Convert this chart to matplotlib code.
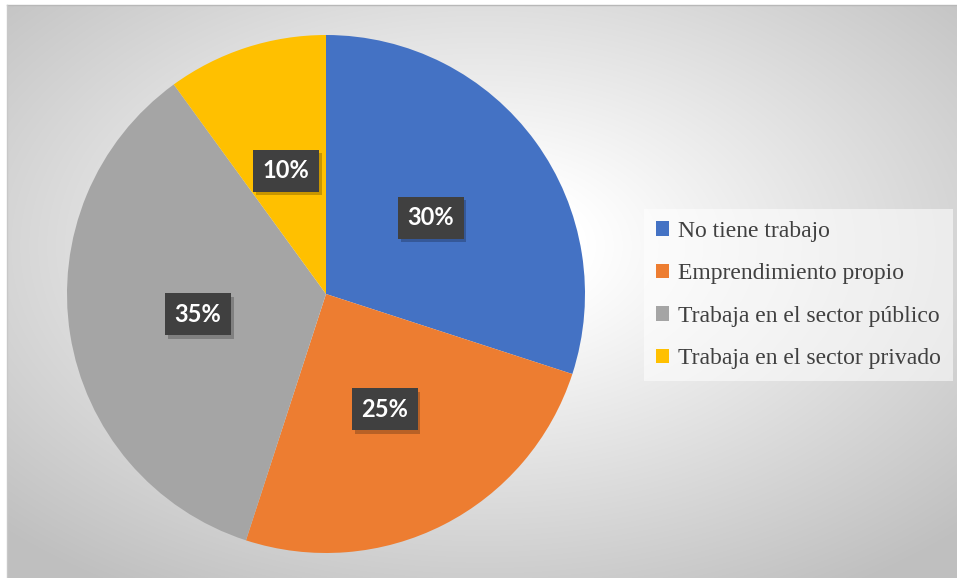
import numpy as np
import matplotlib
matplotlib.use("Agg")
import matplotlib.pyplot as plt
import matplotlib.patheffects as pe
from matplotlib.patches import Patch
from matplotlib import font_manager

W, H = 957, 578

categories = [
    "No tiene trabajo",
    "Emprendimiento propio",
    "Trabaja en el sector público",
    "Trabaja en el sector privado",
]
shares = [30, 25, 35, 10]
colors = ["#4472C4", "#ED7D31", "#A5A5A5", "#FFC000"]

serif_names = {f.name for f in font_manager.fontManager.ttflist}
legend_font = "Liberation Serif" if "Liberation Serif" in serif_names else "DejaVu Serif"

fig = plt.figure(figsize=(W / 100, H / 100), dpi=100)
fig.patch.set_facecolor("white")

# radial grey background of the chart area
x0, y0, x1, y1 = 7, 5, 957, 578
bg = fig.add_axes([x0 / W, 1 - y1 / H, (x1 - x0) / W, (y1 - y0) / H])
yy, xx = np.mgrid[0:(y1 - y0), 0:(x1 - x0)]
cx, cy = (x1 - x0) * 0.5, (y1 - y0) * 0.42
d = np.sqrt(((xx - cx) / ((x1 - x0) / 2)) ** 2 + ((yy - cy) / ((y1 - y0) / 2)) ** 2)
t = np.clip((d - 0.22) / 1.2, 0, 1)
val = 1.0 - (1.0 - 0.75) * t
bg.imshow(np.dstack([val, val, val]), aspect="auto", interpolation="bilinear")
bg.set_axis_off()
fig.add_artist(plt.Line2D([x0 / W, 1], [1 - y0 / H, 1 - y0 / H], color="#b8b8b8", lw=1))
fig.add_artist(plt.Line2D([x0 / W, x0 / W], [0, 1 - y0 / H], color="#c8c8c8", lw=1))

# pie
pcx, pcy, r = 326, 294, 259
ax = fig.add_axes([(pcx - r) / W, (H - pcy - r) / H, 2 * r / W, 2 * r / H])
wedges, texts, autotexts = ax.pie(
    shares,
    colors=colors,
    startangle=90,
    counterclock=False,
    radius=1,
    autopct="%d%%",
    pctdistance=0.5,
    wedgeprops=dict(linewidth=0),
    textprops=dict(color="white", fontsize=17, fontweight="bold", family=["Lato", "DejaVu Sans"]),
)
ax.set_xlim(-1, 1)
ax.set_ylim(-1, 1)
ax.set_aspect("equal")
ax.set_axis_off()

for at in autotexts:
    at.set_bbox(dict(boxstyle="square,pad=0.4", facecolor="#404040", edgecolor="none"))
    at.get_bbox_patch().set_path_effects(
        [pe.SimplePatchShadow(offset=(2, -2.5), shadow_rgbFace="black", alpha=0.22), pe.Normal()]
    )

handles = [Patch(facecolor=c, edgecolor="none") for c in colors]
leg = fig.legend(
    handles,
    categories,
    loc="upper left",
    bbox_to_anchor=(644 / W, 1 - 209 / H),
    frameon=True,
    fancybox=False,
    prop=dict(family=legend_font, size=17),
    labelcolor="#404040",
    handlelength=0.55,
    handleheight=0.55,
    handletextpad=0.4,
    labelspacing=0.91,
    borderpad=0.5,
    borderaxespad=0,
)
leg.get_frame().set_facecolor("white")
leg.get_frame().set_alpha(0.55)
leg.get_frame().set_edgecolor("none")

fig.savefig("out.png", dpi=100, facecolor=fig.get_facecolor())
